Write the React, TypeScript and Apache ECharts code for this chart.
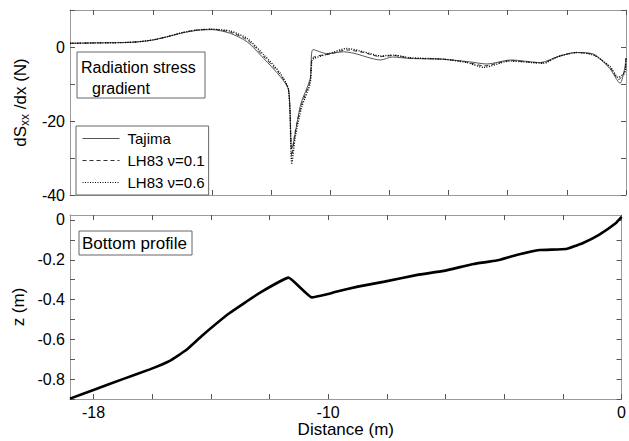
import React, { useEffect, useRef } from "react";
import * as echarts from "echarts";

const FONT = "'Liberation Sans', Arial, sans-serif";

// Top panel: radiation stress gradient (x in m, y in N)
const tajima: number[][] = [
  [-18.8, 1.0], [-18, 1.1], [-17, 1.2], [-16.5, 1.4], [-16, 1.9], [-15.5, 2.8], [-15, 3.8],
  [-14.5, 4.5], [-14, 4.7], [-13.38, 3.7], [-12.81, 1.4], [-12.25, -3.1], [-11.69, -8.0],
  [-11.41, -11.6], [-11.3, -27.5], [-11.0, -15.5], [-10.68, -8.6], [-10.58, -0.7], [-10.1, -1.8],
  [-9.55, -1.3], [-9.2, -1.7], [-8.3, -3.5], [-7.9, -2.7], [-7.3, -3.1], [-6.2, -3.3], [-5.3, -4.0],
  [-4.7, -4.6], [-3.9, -3.5], [-2.9, -4.2], [-2.3, -2.6], [-1.7, -1.5], [-1.1, -1.9], [-0.55, -5.8],
  [-0.2, -9.8], [-0.05, -6.0], [0, -3.0],
];
const lh83v01: number[][] = [
  [-18.8, 1.0], [-18, 1.1], [-17, 1.2], [-16.5, 1.4], [-16, 1.9], [-15.5, 2.8], [-15, 3.9],
  [-14.5, 4.6], [-14, 4.8], [-13.38, 4.0], [-12.81, 1.9], [-12.25, -2.6], [-11.69, -7.5],
  [-11.41, -11.6], [-11.3, -29.5], [-11.2, -23.5], [-10.98, -15.8], [-10.68, -9.2], [-10.6, -3.0],
  [-10.0, -1.9], [-9.44, -0.8], [-8.87, -1.5], [-8.31, -2.6], [-7.86, -2.3], [-7.3, -3.0],
  [-6.17, -3.3], [-5.38, -4.1], [-4.8, -5.1], [-3.92, -3.7], [-2.85, -4.3], [-2.3, -2.6],
  [-1.67, -1.5], [-1.1, -2.1], [-0.54, -5.5], [-0.24, -8.8], [-0.04, -6.4], [0, -3.0],
];
const lh83v06: number[][] = [
  [-18.8, 1.0], [-18, 1.1], [-17, 1.2], [-16.5, 1.4], [-16, 1.9], [-15.5, 2.8], [-15, 3.9],
  [-14.5, 4.6], [-14, 4.8], [-13.38, 4.3], [-12.81, 2.3], [-12.25, -2.1], [-11.69, -7.1],
  [-11.41, -11.6], [-11.3, -31.4], [-11.18, -24.2], [-10.96, -16.1], [-10.68, -9.8], [-10.62, -3.5],
  [-10.56, -3.1], [-10.0, -1.7], [-9.44, -0.4], [-8.87, -1.3], [-8.31, -2.4], [-7.86, -2.2],
  [-7.3, -2.9], [-6.17, -3.3], [-5.38, -4.2], [-4.82, -5.5], [-3.92, -3.8], [-2.79, -4.4],
  [-2.3, -2.6], [-1.67, -1.5], [-1.1, -2.2], [-0.54, -5.3], [-0.26, -8.2], [-0.03, -6.8], [0, -3.0],
];

// Bottom panel: bottom profile (x in m, z in m)
const profile: number[][] = [
  [-18.8, -0.898], [-18.0, -0.855], [-17.0, -0.8], [-16.08, -0.751], [-15.4, -0.708],
  [-14.84, -0.654], [-14.28, -0.579], [-13.38, -0.47], [-12.36, -0.369], [-11.35, -0.29],
  [-10.56, -0.389], [-10.0, -0.372], [-9.77, -0.362], [-8.99, -0.335], [-8.08, -0.31],
  [-6.96, -0.276], [-6.06, -0.256], [-5.04, -0.221], [-4.26, -0.204], [-3.58, -0.176],
  [-2.79, -0.151], [-1.89, -0.146], [-1.33, -0.117], [-0.77, -0.075], [-0.2, -0.017], [0, 0.015],
];

const xTicks = [-18, -16, -14, -12, -10, -8, -6, -4, -2, 0];
const xLabels = [-18, -10, 0];
const topYTicks = [-40, -30, -20, -10, 0, 10];
const topYLabels = [-40, -20, 0];
const botYTicks = [-0.9, -0.8, -0.7, -0.6, -0.5, -0.4, -0.3, -0.2, -0.1, 0];
const botYLabels = [-0.8, -0.6, -0.4, -0.2, 0];

const AXIS_LINE = "#9a9a9a";
const TICK = "#555";

function makeAxis(
  gridIndex: number,
  position: string,
  min: number,
  max: number,
  ticks: number[],
  labels: number[] | null,
  extra: any = {}
) {
  return {
    type: "value",
    gridIndex,
    position,
    min,
    max,
    axisLine: { show: true, onZero: false, lineStyle: { color: AXIS_LINE, width: 1 } },
    axisTick: { show: true, inside: true, length: 5, customValues: ticks, lineStyle: { color: TICK } },
    axisLabel: labels
      ? { show: true, customValues: labels, color: "#000", fontSize: 16, fontFamily: FONT, margin: 5 }
      : { show: false },
    splitLine: { show: false },
    ...extra,
  };
}

export default function App() {
  const ref = useRef<HTMLDivElement>(null);
  useEffect(() => {
    if (!ref.current) return;
    const chart = echarts.init(ref.current, null, { renderer: "svg" });
    const option: any = {
      animation: false,
      backgroundColor: "#fff",
      textStyle: { fontFamily: FONT },
      grid: [
        { left: 70, top: 10, width: 556, height: 185 },
        { left: 70, top: 215, width: 556, height: 184 },
      ],
      xAxis: [
        makeAxis(0, "bottom", -18.8, 0, xTicks, null),
        makeAxis(0, "top", -18.8, 0, xTicks, null),
        makeAxis(1, "bottom", -18.8, 0, xTicks, xLabels, {
          name: "Distance (m)",
          nameLocation: "middle",
          nameGap: 22,
          nameTextStyle: { color: "#000", fontSize: 17, fontFamily: FONT, verticalAlign: "top" },
        }),
        makeAxis(1, "top", -18.8, 0, xTicks, null),
      ],
      yAxis: [
        makeAxis(0, "left", -40, 10, topYTicks, topYLabels, {
          name: "{a|dS}{b|xx}{a| /dx (N)}",
          nameLocation: "middle",
          nameGap: 33,
          nameTextStyle: {
            color: "#000",
            fontFamily: FONT,
            rich: {
              a: { fontSize: 17, fontFamily: FONT, color: "#000", lineHeight: 20 },
              b: { fontSize: 12, fontFamily: FONT, color: "#000", verticalAlign: "bottom", lineHeight: 12, padding: [10, 0, 0, 0] },
            },
          },
        }),
        makeAxis(0, "right", -40, 10, topYTicks, null),
        makeAxis(1, "left", -0.9, 0.025, botYTicks, botYLabels, {
          name: "z (m)",
          nameLocation: "middle",
          nameGap: 36,
          nameTextStyle: { color: "#000", fontSize: 17, fontFamily: FONT },
        }),
        makeAxis(1, "right", -0.9, 0.025, botYTicks, null),
      ],
      legend: {
        left: 76,
        top: 126,
        orient: "vertical",
        backgroundColor: "#fff",
        borderColor: "#666",
        borderWidth: 1,
        borderRadius: 0,
        padding: [5, 4, 5, 6],
        itemWidth: 37,
        itemHeight: 14,
        itemGap: 7,
        itemStyle: { opacity: 0 },
        lineStyle: { width: 1 },
        textStyle: { color: "#000", fontSize: 15, fontFamily: FONT, padding: [0, 0, 0, 3] },
        data: ["Tajima", "LH83 ν=0.1", "LH83 ν=0.6"],
      },
      series: [
        {
          name: "Tajima",
          type: "line",
          xAxisIndex: 0,
          yAxisIndex: 0,
          data: tajima,
          symbol: "none",
          smooth: 0.25,
          lineStyle: { color: "#555", width: 1, type: "solid" },
          itemStyle: { color: "#555" },
        },
        {
          name: "LH83 ν=0.1",
          type: "line",
          xAxisIndex: 0,
          yAxisIndex: 0,
          data: lh83v01,
          symbol: "none",
          smooth: 0.25,
          lineStyle: { color: "#333", width: 1, type: [4, 3] },
          itemStyle: { color: "#333" },
        },
        {
          name: "LH83 ν=0.6",
          type: "line",
          xAxisIndex: 0,
          yAxisIndex: 0,
          data: lh83v06,
          symbol: "none",
          smooth: 0.25,
          lineStyle: { color: "#000", width: 1.4, type: [1, 1.5] },
          itemStyle: { color: "#000" },
        },
        {
          name: "Bottom profile",
          type: "line",
          xAxisIndex: 2,
          yAxisIndex: 2,
          data: profile,
          symbol: "none",
          smooth: 0.1,
          lineStyle: { color: "#000", width: 2.6 },
          itemStyle: { color: "#000" },
        },
      ],
      graphic: [
        {
          type: "rect",
          shape: { x: 77, y: 52, width: 128, height: 46 },
          style: { fill: "#fff", stroke: "#666", lineWidth: 1 },
          z: 100,
        },
        {
          type: "text",
          x: 81,
          y: 67,
          style: { text: "Radiation stress", fill: "#000", fontSize: 16, fontFamily: FONT, verticalAlign: "middle" },
          z: 101,
        },
        {
          type: "text",
          x: 92,
          y: 88,
          style: { text: "gradient", fill: "#000", fontSize: 16, fontFamily: FONT, verticalAlign: "middle" },
          z: 101,
        },
        {
          type: "rect",
          shape: { x: 79, y: 231, width: 113, height: 24 },
          style: { fill: "#fff", stroke: "#666", lineWidth: 1 },
          z: 100,
        },
        {
          type: "text",
          x: 82,
          y: 243,
          style: { text: "Bottom profile", fill: "#000", fontSize: 17, fontFamily: FONT, verticalAlign: "middle" },
          z: 101,
        },
      ],
    };
    chart.setOption(option);
    return () => chart.dispose();
  }, []);
  return (
    <div
      ref={ref}
      style={{ position: "fixed", left: 0, top: 0, width: 629, height: 441, background: "#fff" }}
    />
  );
}
